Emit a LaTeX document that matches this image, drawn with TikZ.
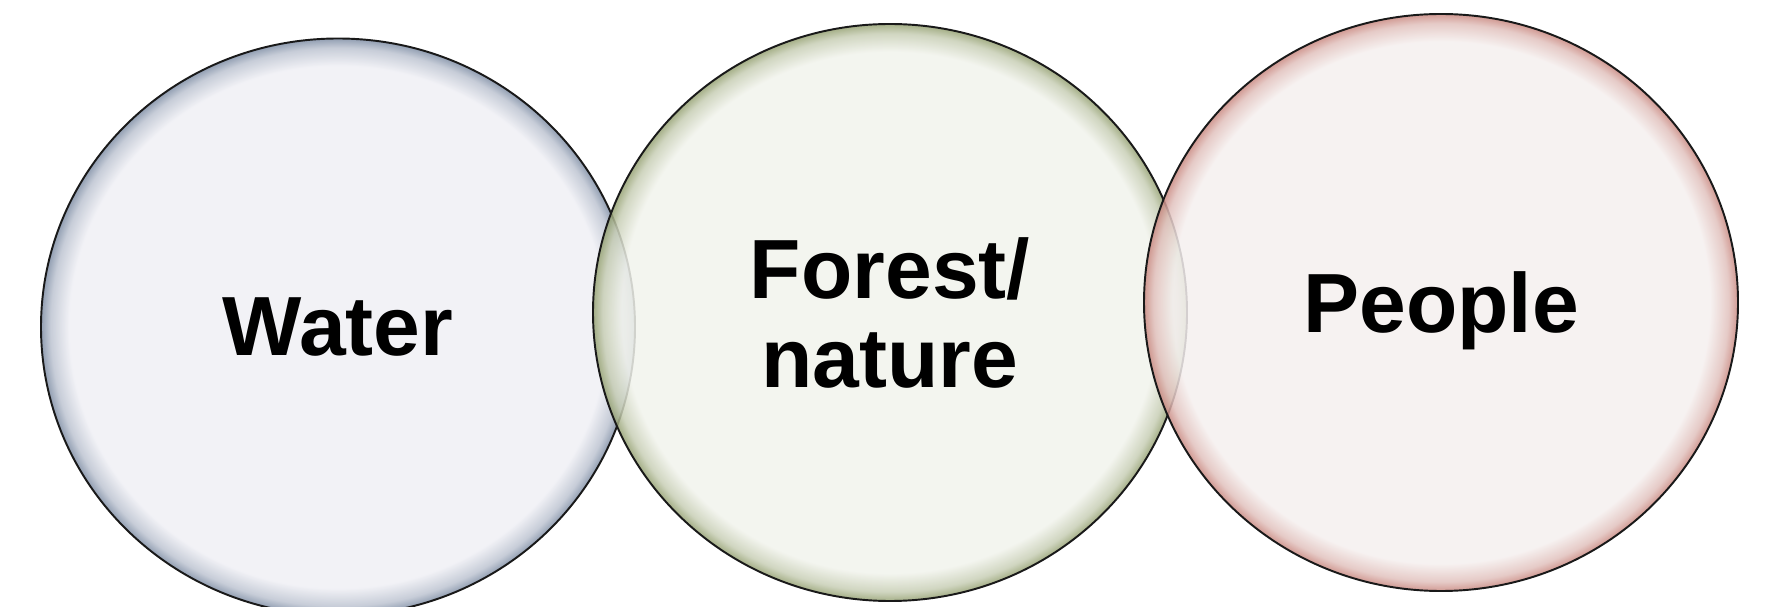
\documentclass[tikz,border=0pt]{standalone}
\usepackage{fontspec}
\setmainfont{Liberation Sans}
\usetikzlibrary{shapes.geometric,positioning}

\definecolor{waterfill}{HTML}{F0F0F5}
\definecolor{wateredge}{HTML}{7F8EA5}
\definecolor{forestfill}{HTML}{F1F3EC}
\definecolor{forestedge}{HTML}{95A172}
\definecolor{peoplefill}{HTML}{F5F0EF}
\definecolor{peopleedge}{HTML}{C98880}

% flat centre, darker rim
\pgfdeclareradialshading{waterrim}{\pgfpoint{0bp}{0bp}}{color(0bp)=(waterfill); color(22.6bp)=(waterfill); color(24.2bp)=(waterfill!55!wateredge); color(25bp)=(wateredge); color(50bp)=(wateredge)}
\pgfdeclareradialshading{forestrim}{\pgfpoint{0bp}{0bp}}{color(0bp)=(forestfill); color(22.6bp)=(forestfill); color(24.2bp)=(forestfill!55!forestedge); color(25bp)=(forestedge); color(50bp)=(forestedge)}
\pgfdeclareradialshading{peoplerim}{\pgfpoint{0bp}{0bp}}{color(0bp)=(peoplefill); color(22.6bp)=(peoplefill); color(24.2bp)=(peoplefill!55!peopleedge); color(25bp)=(peopleedge); color(50bp)=(peopleedge)}

\begin{document}
\begin{tikzpicture}[
  bubble/.style={ellipse, draw=black!90, line width=1.1pt,
    minimum width=11.88cm, minimum height=11.54cm, inner sep=0pt,
    fill opacity=0.85, text opacity=1, text depth=0pt, align=center,
    font=\fontsize{47.8}{51}\selectfont\bfseries}]
  \useasboundingbox (0,0) rectangle (35.36,12.12);

  % three overlapping bubbles
  \node[bubble, shading=waterrim] (water) at (6.76,5.58) {Water};
  \node[bubble, shading=forestrim] (forest) at (17.80,5.87) {Forest/\\nature};
  \node[bubble, shading=peoplerim] (people) at (28.82,6.07) {People};
\end{tikzpicture}
\end{document}
